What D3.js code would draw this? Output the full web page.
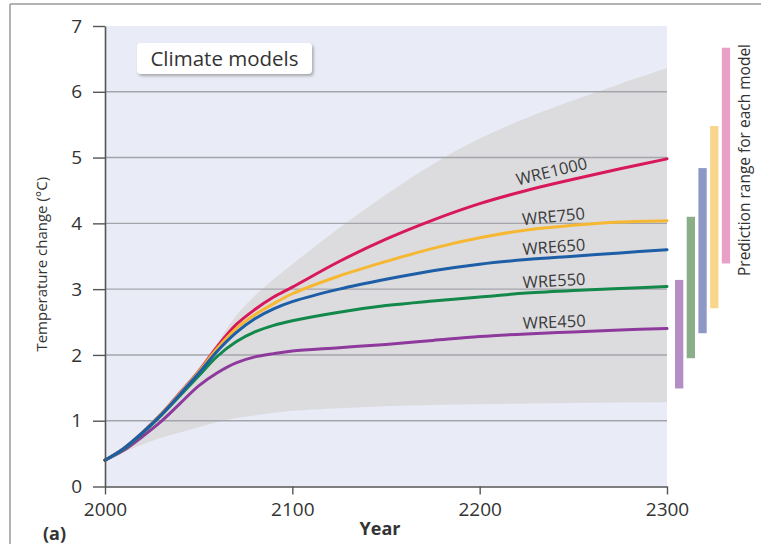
<!DOCTYPE html>
<html>
<head>
<meta charset="utf-8">
<script src="https://cdn.jsdelivr.net/npm/d3@7"></script>
<style>
  html, body { margin: 0; padding: 0; background: #ffffff; }
  svg { display: block; }
  text { font-family: "Open Sans", "Noto Sans", sans-serif; }
</style>
</head>
<body>
<svg id="chart" width="761" height="544"></svg>
<script>
// ---------------- DATA ----------------
const years = [2000, 2010, 2020, 2030, 2040, 2050, 2060, 2070, 2080, 2090, 2100, 2125, 2150, 2175, 2200, 2225, 2250, 2275, 2300];

const seriesNames = ["WRE450", "WRE550", "WRE650", "WRE750", "WRE1000"];

const wre1000 = [0.40, 0.58, 0.82, 1.10, 1.42, 1.75, 2.13, 2.46, 2.69, 2.88, 3.03, 3.42, 3.76, 4.05, 4.30, 4.50, 4.67, 4.83, 4.98];
const wre750  = [0.40, 0.58, 0.82, 1.10, 1.41, 1.74, 2.10, 2.40, 2.61, 2.78, 2.93, 3.20, 3.42, 3.62, 3.78, 3.90, 3.97, 4.02, 4.04];
const wre650  = [0.40, 0.58, 0.82, 1.09, 1.40, 1.72, 2.06, 2.34, 2.55, 2.70, 2.81, 3.00, 3.15, 3.28, 3.38, 3.45, 3.50, 3.55, 3.60];
const wre550  = [0.40, 0.57, 0.81, 1.08, 1.38, 1.68, 1.98, 2.20, 2.35, 2.45, 2.52, 2.65, 2.75, 2.82, 2.88, 2.94, 2.98, 3.01, 3.04];
const wre450  = [0.40, 0.55, 0.76, 0.99, 1.26, 1.53, 1.73, 1.88, 1.97, 2.02, 2.06, 2.11, 2.16, 2.22, 2.28, 2.32, 2.35, 2.38, 2.40];

const bandUpper = [0.40, 0.60, 0.85, 1.14, 1.47, 1.80, 2.19, 2.60, 2.90, 3.15, 3.38, 3.93, 4.44, 4.90, 5.29, 5.60, 5.87, 6.12, 6.36];
const bandLower = [0.40, 0.52, 0.64, 0.74, 0.82, 0.90, 0.98, 1.04, 1.08, 1.12, 1.15, 1.19, 1.22, 1.24, 1.25, 1.26, 1.27, 1.275, 1.28];

// prediction range for each model (°C)
const rangeLow  = [1.49, 1.95, 2.33, 2.71, 3.39];
const rangeHigh = [3.14, 4.10, 4.84, 5.48, 6.67];

const yTicks = [0, 1, 2, 3, 4, 5, 6, 7];
const xTicks = [2000, 2100, 2200, 2300];
const labelYear = 2240;

// ---------------- STYLES ----------------
const lineColors = { WRE450: "#8e3a9d", WRE550: "#12884a", WRE650: "#1d5ea7", WRE750: "#f6b832", WRE1000: "#d8185a" };
const barColors  = { WRE450: "#b38dc3", WRE550: "#8aae88", WRE650: "#8e98c6", WRE750: "#f8d78c", WRE1000: "#e8a0c6" };
const labelLift  = { WRE450: 5, WRE550: 5, WRE650: 5, WRE750: 5, WRE1000: 7 };

const values = { WRE450: wre450, WRE550: wre550, WRE650: wre650, WRE750: wre750, WRE1000: wre1000 };

// ---------------- CHART ----------------
const svg = d3.select("#chart");

const x = d3.scaleLinear().domain([2000, 2300]).range([105, 667]);
const y = d3.scaleLinear().domain([0, 7]).range([486.5, 26]);

// outer frame lines
svg.append("line").attr("x1", 10).attr("x2", 761).attr("y1", 4).attr("y2", 4)
  .attr("stroke", "#9a9a9a").attr("stroke-width", 1.5);
svg.append("line").attr("x1", 10).attr("x2", 10).attr("y1", 4).attr("y2", 544)
  .attr("stroke", "#9a9a9a").attr("stroke-width", 1.5);

// plot background
svg.append("rect")
  .attr("x", x(2000)).attr("y", y(7))
  .attr("width", x(2300) - x(2000)).attr("height", y(0) - y(7))
  .attr("fill", "#e9ecf7");

// model spread band
const bandData = years.map((yr, i) => ({ yr, lo: bandLower[i], hi: bandUpper[i] }));
svg.append("path")
  .datum(bandData)
  .attr("fill", "#dcdcdf")
  .attr("d", d3.area().x(d => x(d.yr)).y0(d => y(d.lo)).y1(d => y(d.hi)).curve(d3.curveCatmullRom.alpha(0.5)));

// gridlines
svg.append("g").selectAll("line")
  .data(yTicks.filter(t => t > 0 && t < 7))
  .join("line")
  .attr("x1", x(2000)).attr("x2", x(2300))
  .attr("y1", d => y(d)).attr("y2", d => y(d))
  .attr("stroke", "#a4a5ab").attr("stroke-width", 1.4);

// lines
const line = d3.line().x(d => x(d.yr)).y(d => y(d.v)).curve(d3.curveCatmullRom.alpha(0.5));
const drawOrder = ["WRE450", "WRE1000", "WRE750", "WRE550", "WRE650"];
drawOrder.forEach(name => {
  const pts = years.map((yr, i) => ({ yr, v: values[name][i] }));
  svg.append("path")
    .datum(pts)
    .attr("fill", "none")
    .attr("stroke", lineColors[name])
    .attr("stroke-width", 3)
    .attr("stroke-linecap", "round")
    .attr("d", line);
});

// line labels
const interp = (name, yr) => {
  const arr = values[name];
  for (let i = 0; i < years.length - 1; i++) {
    if (yr >= years[i] && yr <= years[i + 1]) {
      const t = (yr - years[i]) / (years[i + 1] - years[i]);
      return arr[i] + t * (arr[i + 1] - arr[i]);
    }
  }
  return arr[arr.length - 1];
};
seriesNames.forEach(name => {
  const v = interp(name, labelYear);
  const v1 = interp(name, labelYear - 20), v2 = interp(name, labelYear + 20);
  const ang = Math.atan2(y(v2) - y(v1), x(labelYear + 20) - x(labelYear - 20)) * 180 / Math.PI;
  svg.append("text")
    .attr("transform", `translate(${x(labelYear)},${y(v)}) rotate(${ang}) translate(0,${-labelLift[name]})`)
    .attr("text-anchor", "middle")
    .attr("font-size", 16.5)
    .attr("fill", "#3a3a3a")
    .text(name);
});

// axes
const yAxis = svg.append("g")
  .attr("transform", `translate(${x(2000)},0)`)
  .call(d3.axisLeft(y).tickValues(yTicks).tickSize(12).tickSizeOuter(0).tickPadding(11).tickFormat(d3.format("d")));
const xAxis = svg.append("g")
  .attr("transform", `translate(0,${y(0)})`)
  .call(d3.axisBottom(x).tickValues(xTicks).tickSize(8).tickSizeOuter(0).tickPadding(8).tickFormat(d3.format("d")));
[yAxis, xAxis].forEach(g => {
  g.selectAll("path.domain").attr("stroke", "#555").attr("stroke-width", 1.6);
  g.selectAll(".tick line").attr("stroke", "#555").attr("stroke-width", 1.4);
  g.selectAll(".tick text").attr("font-size", 19).attr("fill", "#333")
    .attr("font-family", "'Open Sans', sans-serif");
});

// axis titles
svg.append("text")
  .attr("transform", `translate(47,${(y(0) + y(7)) / 2 + 8}) rotate(-90)`)
  .attr("text-anchor", "middle")
  .attr("font-size", 15)
  .attr("fill", "#333")
  .text("Temperature change (°C)");

svg.append("text")
  .attr("x", 380).attr("y", 535)
  .attr("text-anchor", "middle")
  .attr("font-size", 18).attr("font-weight", "bold")
  .attr("fill", "#333")
  .text("Year");

svg.append("text")
  .attr("x", 43).attr("y", 540)
  .attr("font-size", 18).attr("font-weight", "bold")
  .attr("fill", "#333")
  .text("(a)");

// "Climate models" box
const defs = svg.append("defs");
const f = defs.append("filter").attr("id", "shadow").attr("x", "-20%").attr("y", "-40%").attr("width", "140%").attr("height", "180%");
f.append("feDropShadow").attr("dx", 1.5).attr("dy", 2).attr("stdDeviation", 1.5).attr("flood-color", "#777").attr("flood-opacity", 0.6);

svg.append("rect")
  .attr("x", 137).attr("y", 43).attr("width", 175).attr("height", 31).attr("rx", 4)
  .attr("fill", "#ffffff").attr("filter", "url(#shadow)");
svg.append("text")
  .attr("x", 224.5).attr("y", 66)
  .attr("text-anchor", "middle")
  .attr("font-size", 20.5)
  .attr("fill", "#333")
  .text("Climate models");

// prediction range bars
const barX = d3.scaleLinear().domain([0, 4]).range([675, 721.8]);
svg.append("g").selectAll("rect")
  .data(seriesNames)
  .join("rect")
  .attr("x", (d, i) => barX(i))
  .attr("width", 8.3)
  .attr("y", (d, i) => y(rangeHigh[i]))
  .attr("height", (d, i) => y(rangeLow[i]) - y(rangeHigh[i]))
  .attr("fill", d => barColors[d]);

svg.append("text")
  .attr("transform", `translate(750,160) rotate(-90)`)
  .attr("text-anchor", "middle")
  .attr("font-size", 15.5)
  .attr("fill", "#333")
  .text("Prediction range for each model");
</script>
</body>
</html>
